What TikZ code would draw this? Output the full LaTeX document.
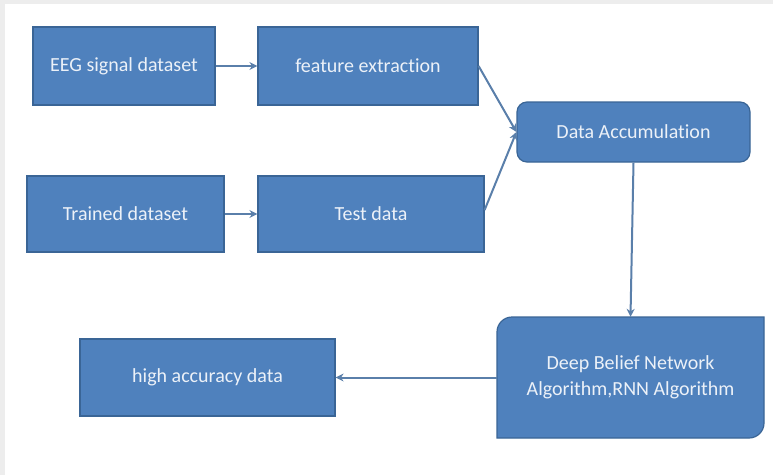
\documentclass[tikz,border=0pt]{standalone}
\usepackage{fontspec}
\setmainfont[Ligatures={NoCommon}]{Carlito}
\usetikzlibrary{arrows.meta}
\definecolor{boxfill}{HTML}{4F81BD}
\definecolor{boxline}{HTML}{3A6596}
\definecolor{arrowc}{HTML}{5A7FAA}
\definecolor{frameg}{HTML}{EDEDED}
\definecolor{txt}{HTML}{ECF1F8}
\begin{document}
\begin{tikzpicture}[x=1pt,y=-1pt,
  box/.style={draw=boxline, line width=1.2pt, fill=boxfill, text=txt, font=\fontsize{20}{26}\selectfont, align=center, inner sep=0pt},
  conn/.style={draw=arrowc, line width=2pt, -{Stealth[length=8pt,width=8pt]}}]
\fill[white] (0,0) rectangle (773,475);
\fill[frameg] (0,0) rectangle (773,4);
\fill[frameg] (0,0) rectangle (5,475);
\useasboundingbox (0,0) rectangle (773,475);

\node[box, minimum width=182pt, minimum height=78pt] (eeg) at (124,66) {EEG signal dataset};
\node[box, minimum width=220pt, minimum height=78pt] (fe) at (368,66) {feature extraction};
\node[box, minimum width=197pt, minimum height=76pt] (tr) at (125.5,214) {Trained dataset};
\node[box, minimum width=226pt, minimum height=76pt] (td) at (371,214) {Test data};
\node[box, rounded corners=10pt, minimum width=233pt, minimum height=60pt] (da) at (633.5,132) {Data Accumulation};
\node[box, minimum width=255pt, minimum height=77pt] (ha) at (207.5,377.5) {high accuracy data};
% DBN: round diagonal corner rectangle
\coordinate (dbnc) at (630.5,377.5);
\draw[draw=boxline, line width=1.2pt, fill=boxfill]
  (497,332) arc[start angle=180, end angle=270, radius=15] -- (764,317) -- (764,423)
  arc[start angle=0, end angle=90, radius=15] -- (497,438) -- cycle;
\node[text=txt, font=\fontsize{20}{26}\selectfont, align=center, minimum width=267pt, minimum height=121pt, inner sep=0pt] (dbn) at (dbnc) {Deep Belief Network\\Algorithm,RNN Algorithm};

\draw[conn] (eeg.east) -- (fe.west);
\draw[conn] (tr.east) -- (td.west);
\draw[conn] (fe.east) -- (da.west);
\draw[conn] (td.east |- 0,210) -- (da.west);
\draw[conn] (da.south) -- (dbn.north);
\draw[conn] (dbn.west) -- (ha.east);
\end{tikzpicture}
\end{document}
